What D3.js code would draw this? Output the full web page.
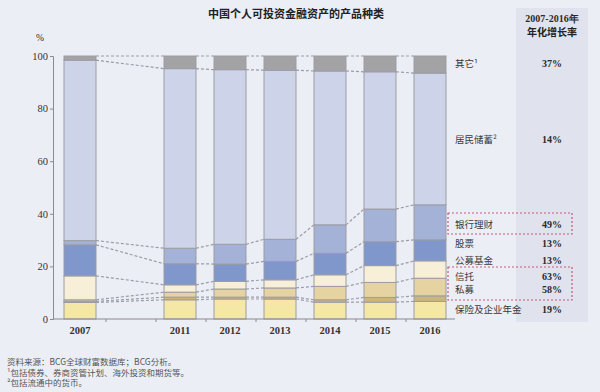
<!DOCTYPE html>
<html>
<head>
<meta charset="utf-8">
<script src="https://cdn.jsdelivr.net/npm/d3@7"></script>
<style>
  body { margin: 0; background: #eceef6; }
  svg { display: block; }
  .cjk { font-family: "Noto Sans CJK SC", sans-serif; fill: #3a3a3a; }
  .num { font-family: "Liberation Serif", serif; fill: #2a2a2a; }
</style>
</head>
<body>
<svg id="chart" width="600" height="392"></svg>
<script>
// Data: share (%) of each product, bottom to top
const years = ["2007", "gap", "2011", "2012", "2013", "2014", "2015", "2016"];
const barYears = ["2007", "2011", "2012", "2013", "2014", "2015", "2016"];
const products = ["保险及企业年金", "私募", "信托", "公募基金", "股票", "银行理财", "居民储蓄", "其它"];
const insurance = [6.3, 7.3, 7.6, 7.6, 6.4, 6.4, 6.7];
const privateFund = [0.4, 1.0, 0.7, 0.7, 0.9, 1.8, 2.1];
const trust = [0.6, 1.9, 3.1, 3.5, 5.1, 5.7, 6.7];
const mutualFund = [9.1, 2.8, 2.9, 3.1, 4.4, 6.4, 6.6];
const stocks = [11.8, 8.0, 6.6, 7.0, 8.2, 9.1, 8.0];
const wealthMgmt = [1.6, 5.9, 7.5, 8.4, 10.8, 12.4, 13.3];
const deposits = [68.6, 68.3, 66.4, 64.3, 58.5, 52.2, 50.1];
const others = [1.6, 4.8, 5.2, 5.4, 5.7, 6.0, 6.5];
const growth = ["19%", "58%", "63%", "13%", "13%", "49%", "14%", "37%"];
const labelText = ["保险及企业年金", "私募", "信托", "公募基金", "股票", "银行理财", "居民储蓄²", "其它¹"];
const yTicks = [0, 20, 40, 60, 80, 100];

const colors = ["#f5e8a6", "#cdb57c", "#e6d3a2", "#f8efd8", "#7f97cb", "#a4b2d7", "#cdd3e9", "#a3a3a5"];
const series = [insurance, privateFund, trust, mutualFund, stocks, wealthMgmt, deposits, others];

const table = barYears.map((yr, i) => {
    const row = { year: yr };
    products.forEach((p, k) => { row[p] = series[k][i]; });
    return row;
});

const svg = d3.select("#chart");

// Right column for growth rates
svg.append("rect")
    .attr("x", 516).attr("y", 8)
    .attr("width", 72).attr("height", 314)
    .attr("fill", "#e0e2ee");

// Title
svg.append("text")
    .attr("class", "cjk")
    .attr("x", 296).attr("y", 18)
    .attr("text-anchor", "middle")
    .attr("font-size", 11).attr("font-weight", "bold")
    .style("fill", "#222")
    .text("中国个人可投资金融资产的产品种类");

svg.append("text").attr("class", "num")
    .attr("x", 552).attr("y", 22).attr("text-anchor", "middle")
    .attr("font-size", 10).attr("font-weight", "bold")
    .text("2007-2016年");
svg.append("text").attr("class", "cjk")
    .attr("x", 552).attr("y", 36).attr("text-anchor", "middle")
    .attr("font-size", 10).attr("font-weight", "bold")
    .style("fill", "#222")
    .text("年化增长率");

// Scales
const x = d3.scaleBand()
    .domain(years)
    .range([55, 455])
    .paddingInner(0.36)
    .paddingOuter(0.18);

const y = d3.scaleLinear()
    .domain([0, 100])
    .range([319, 56]);

const stacked = d3.stack().keys(products)(table);

// Dashed connectors between neighbouring bars
const cumTops = barYears.map((yr, i) => {
    let acc = 0;
    return series.map(s => (acc += s[i]));
});
const links = [];
for (let i = 0; i < barYears.length - 1; i++) {
    cumTops[i].forEach((v, k) => {
        links.push({ from: barYears[i], to: barYears[i + 1], v0: v, v1: cumTops[i + 1][k] });
    });
}
svg.append("g")
    .selectAll("line")
    .data(links)
    .join("line")
    .attr("x1", d => x(d.from) + x.bandwidth())
    .attr("x2", d => x(d.to))
    .attr("y1", d => y(d.v0))
    .attr("y2", d => y(d.v1))
    .attr("stroke", "#9a9caa")
    .attr("stroke-width", 1.2)
    .attr("stroke-dasharray", "3,2");

// Bars
svg.append("g")
    .selectAll("g")
    .data(stacked)
    .join("g")
    .attr("fill", (d, i) => colors[i])
    .selectAll("rect")
    .data(d => d)
    .join("rect")
    .attr("x", d => x(d.data.year))
    .attr("y", d => y(d[1]))
    .attr("width", x.bandwidth())
    .attr("height", d => y(d[0]) - y(d[1]))
    .attr("stroke", "#9b9ca4")
    .attr("stroke-width", 1);

// Left axis
const leftAxis = d3.axisLeft(y).tickValues(yTicks).tickSize(3).tickPadding(2);
const gy = svg.append("g")
    .attr("transform", "translate(53,0)")
    .call(leftAxis);
gy.select(".domain").attr("stroke", "#8a8a90");
gy.selectAll(".tick line").attr("stroke", "#8a8a90");
gy.selectAll("text")
    .attr("class", "num")
    .attr("font-size", 10.5)
    .style("fill", "#333");

svg.append("text").attr("class", "num")
    .attr("x", 36).attr("y", 41)
    .attr("font-size", 9.5)
    .text("%");

// Bottom axis
const bottomAxis = d3.axisBottom(x)
    .tickValues(years.filter(d => d !== "gap"))
    .tickSize(0).tickPadding(8);
const gx = svg.append("g")
    .attr("transform", `translate(0,${y(0)})`)
    .call(bottomAxis);
gx.select(".domain").attr("d", `M53,0H${x.range()[1]}`).attr("stroke", "#8a8a90");
gx.selectAll("text")
    .attr("class", "num")
    .attr("font-size", 10.5)
    .attr("font-weight", "bold")
    .style("fill", "#333");
gx.selectAll(".boundary")
    .data(d3.range(1, years.length))
    .join("line")
    .attr("class", "boundary")
    .attr("x1", i => x.range()[0] + i * x.step() + 1)
    .attr("x2", i => x.range()[0] + i * x.step() + 1)
    .attr("y1", 0).attr("y2", 3)
    .attr("stroke", "#8a8a90");

// Right-hand labels and growth rates
const labelY = [309, 289, 276, 260, 243, 224, 139, 63];
const labels = svg.append("g");
labels.selectAll("text.lbl")
    .data(labelText)
    .join("text")
    .attr("class", "cjk lbl")
    .attr("x", 455)
    .attr("y", (d, i) => labelY[i] + 4)
    .attr("font-size", 9.5)
    .text(d => d);
labels.selectAll("text.rate")
    .data(growth)
    .join("text")
    .attr("class", "num rate")
    .attr("x", 552)
    .attr("y", (d, i) => labelY[i] + 4)
    .attr("text-anchor", "middle")
    .attr("font-size", 10)
    .attr("font-weight", "bold")
    .text(d => d);

// Dotted highlight boxes
const boxes = [[213, 234], [267, 300]];
svg.append("g")
    .selectAll("rect")
    .data(boxes)
    .join("rect")
    .attr("x", 448).attr("y", d => d[0])
    .attr("width", 124).attr("height", d => d[1] - d[0])
    .attr("fill", "none")
    .attr("stroke", "#c45a78")
    .attr("stroke-width", 1.2)
    .attr("stroke-dasharray", "2,2");

// Footnotes
const notes = ["资料来源：BCG全球财富数据库；BCG分析。", "¹包括债券、券商资管计划、海外投资和期货等。", "²包括流通中的货币。"];
svg.append("g")
    .selectAll("text")
    .data(notes)
    .join("text")
    .attr("class", "cjk")
    .attr("x", 7)
    .attr("y", (d, i) => 365 + i * 10.5)
    .attr("font-size", 8.5)
    .style("fill", "#555")
    .text(d => d);
</script>
</body>
</html>
